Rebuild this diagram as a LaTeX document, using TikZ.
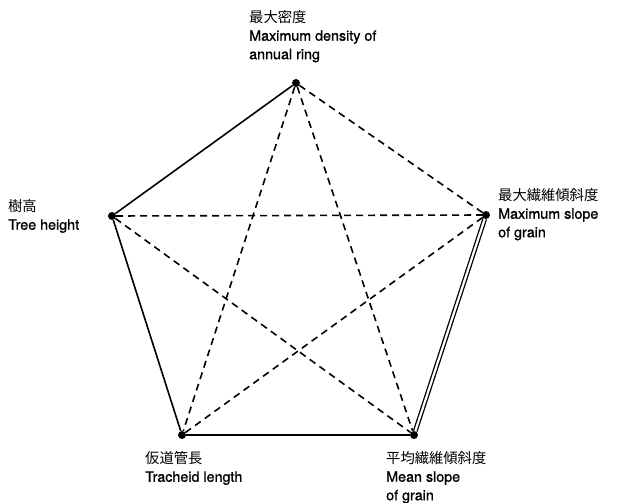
\documentclass[tikz,border=0pt]{standalone}
\usepackage{fontspec}
\setmainfont{TeX Gyre Heros}[FakeBold=1,BoldFont=TeX Gyre Heros]
\newfontfamily\cjk{Noto Sans CJK JP}
\begin{document}
\begin{tikzpicture}[x=1pt,y=-1pt,
  vtx/.style={circle,fill=black,inner sep=0pt,minimum size=8pt},
  lbl/.style={anchor=north west,align=left,inner sep=0pt,font=\fontsize{14.3}{18.5}\selectfont},
  solidedge/.style={line width=1.6pt},
  dashedge/.style={line width=1.6pt,dash pattern=on 7pt off 5pt},
  dbl/.style={line width=1.3pt,double,double distance=2.2pt}]
\useasboundingbox (0,0) rectangle (622,503);
\node[vtx] (T) at (296,83) {};
\node[vtx] (R) at (486,215) {};
\node[vtx] (L) at (112,216) {};
\node[vtx] (BL) at (182,435) {};
\node[vtx] (BR) at (414,435) {};
\draw[solidedge] (T) -- (L);
\draw[solidedge] (L) -- (BL);
\draw[solidedge] (BL) -- (BR);
\draw[dbl] (BR) -- (R);
\draw[dashedge] (T) -- (R);
\draw[dashedge] (T) -- (BL);
\draw[dashedge] (T) -- (BR);
\draw[dashedge] (L) -- (R);
\draw[dashedge] (L) -- (BR);
\draw[dashedge] (R) -- (BL);
\node[lbl] (tl) at (249,10) {{\cjk 最大密度}\\Maximum density of\\annual ring};
\node[lbl] (rl) at (498,188) {{\cjk 最大繊維傾斜度}\\Maximum slope\\of grain};
\node[lbl] (ll) at (8,199) {{\cjk 樹高}\\Tree height};
\node[lbl] (bll) at (145,451) {{\cjk 仮道管長}\\Tracheid length};
\node[lbl] (brl) at (386,451) {{\cjk 平均繊維傾斜度}\\Mean slope\\of grain};
\end{tikzpicture}
\end{document}
